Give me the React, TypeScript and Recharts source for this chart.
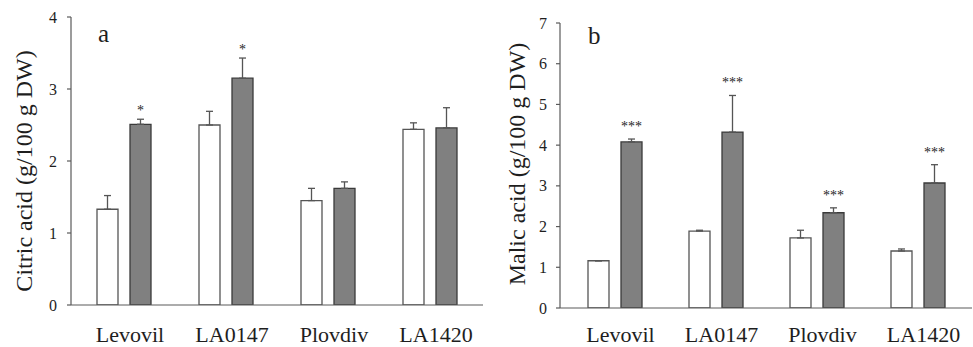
import React from 'react';
import { BarChart, Bar, XAxis, YAxis, ErrorBar, LabelList } from 'recharts';

const categories = ['Levovil', 'LA0147', 'Plovdiv', 'LA1420'];

const citricControl = [1.33, 2.5, 1.45, 2.44];
const citricControlSE = [0.19, 0.19, 0.17, 0.09];
const citricTreated = [2.51, 3.15, 1.62, 2.46];
const citricTreatedSE = [0.07, 0.28, 0.09, 0.28];
const citricSig = ['*', '*', '', ''];
const citricTicks = [0, 1, 2, 3, 4];

const malicControl = [1.16, 1.89, 1.72, 1.4];
const malicControlSE = [0, 0.02, 0.19, 0.05];
const malicTreated = [4.08, 4.32, 2.34, 3.07];
const malicTreatedSE = [0.07, 0.9, 0.12, 0.45];
const malicSig = ['***', '***', '***', '***'];
const malicTicks = [0, 1, 2, 3, 4, 5, 6, 7];

const FONT = '"Liberation Serif", "Times New Roman", Times, serif';
const TEXT = '#1e1e1e';
const AXIS = '#5a5a5a';

function build(ctrl: number[], ctrlSE: number[], trt: number[], trtSE: number[], sig: string[]) {
  return categories.map((c, i) => ({
    name: c,
    control: ctrl[i],
    controlErr: [0, ctrlSE[i]],
    treated: trt[i],
    treatedErr: [0, trtSE[i]],
    sigInfo: `${sig[i]}|${trt[i]}|${trtSE[i]}`,
  }));
}

const citricData = build(citricControl, citricControlSE, citricTreated, citricTreatedSE, citricSig);
const malicData = build(malicControl, malicControlSE, malicTreated, malicTreatedSE, malicSig);

function makeSig(offset: number) {
  return (props: any) => {
    const { x, y, width, height, value } = props;
    if (typeof value !== 'string') return null;
    const [s, v, se] = value.split('|');
    if (!s) return null;
    const val = parseFloat(v);
    const err = parseFloat(se);
    const pxPerUnit = Number(height) / val;
    const errTop = Number(y) - err * pxPerUnit;
    return (
      <text
        x={Number(x) + Number(width) / 2}
        y={errTop - offset}
        textAnchor="middle"
        style={{ fontFamily: FONT, fontSize: 14, fill: TEXT }}
      >
        {s}
      </text>
    );
  };
}

const XTick = (props: any) => {
  const { x, y, payload } = props;
  return (
    <text
      x={Number(x) + 6}
      y={Number(y)}
      dy="0.71em"
      textAnchor="middle"
      style={{ fontFamily: FONT, fontSize: 22, fill: TEXT }}
    >
      {payload.value}
    </text>
  );
};

const YTick = (props: any) => {
  const { x, y, payload } = props;
  return (
    <text
      x={Number(x)}
      y={Number(y)}
      dy="0.35em"
      textAnchor="end"
      style={{ fontFamily: FONT, fontSize: 16, fill: TEXT }}
    >
      {payload.value}
    </text>
  );
};

type PanelProps = {
  data: any[];
  width: number;
  margin: { top: number; right: number; bottom: number; left: number };
  yWidth: number;
  yMax: number;
  ticks: number[];
  yTickMargin: number;
  xTickMargin: number;
  xPad: number;
  sigOffset: number;
  yLabel: string;
  yLabelX: number;
  yLabelY: number;
  letter: string;
  letterX: number;
  letterY: number;
};

function Panel(p: PanelProps) {
  return (
    <BarChart
      width={p.width}
      height={347}
      data={p.data}
      margin={p.margin}
      barSize={21}
      barGap={12}
    >
      <XAxis
        dataKey="name"
        type="category"
        height={30}
        axisLine={{ stroke: AXIS, strokeWidth: 1.2 }}
        tickLine={false}
        tickSize={6}
        tickMargin={p.xTickMargin}
        padding={{ left: p.xPad, right: p.xPad }}
        tick={<XTick />}
        interval={0}
      />
      <YAxis
        type="number"
        domain={[0, p.yMax]}
        ticks={p.ticks}
        width={p.yWidth}
        axisLine={{ stroke: AXIS, strokeWidth: 1.2 }}
        tickLine={{ stroke: AXIS, strokeWidth: 1.2 }}
        tickSize={4}
        tickMargin={p.yTickMargin}
        tick={<YTick />}
        allowDataOverflow
      />
      <Bar dataKey="control" fill="#ffffff" stroke="#555555" strokeWidth={1.3} isAnimationActive={false}>
        <ErrorBar dataKey="controlErr" width={3.5} stroke="#555555" strokeWidth={1.3} direction="y" />
      </Bar>
      <Bar dataKey="treated" fill="#808080" stroke="#3a3a3a" strokeWidth={1.3} isAnimationActive={false}>
        <ErrorBar dataKey="treatedErr" width={3.5} stroke="#555555" strokeWidth={1.3} direction="y" />
        <LabelList dataKey="sigInfo" content={makeSig(p.sigOffset)} />
      </Bar>
      <text
        x={p.yLabelX}
        y={p.yLabelY}
        transform={`rotate(-90 ${p.yLabelX} ${p.yLabelY})`}
        textAnchor="middle"
        dominantBaseline="central"
        style={{ fontFamily: FONT, fontSize: 24, fill: TEXT }}
      >
        {p.yLabel}
      </text>
      <text x={p.letterX} y={p.letterY} style={{ fontFamily: FONT, fontSize: 25, fill: TEXT }}>
        {p.letter}
      </text>
    </BarChart>
  );
}

export default function App() {
  return (
    <div style={{ position: 'absolute', left: 0, top: 0, width: 973, height: 347, background: '#fff' }}>
      <div style={{ position: 'absolute', left: 0, top: 0 }}>
        <Panel
          data={citricData}
          width={490}
          margin={{ top: 17, right: 7, bottom: 12, left: 0 }}
          yWidth={71}
          yMax={4}
          ticks={citricTicks}
          yTickMargin={10}
          xTickMargin={15}
          xPad={2}
          sigOffset={4}
          yLabel="Citric acid (g/100 g DW)"
          yLabelX={24}
          yLabelY={171}
          letter="a"
          letterX={98}
          letterY={42}
        />
      </div>
      <div style={{ position: 'absolute', left: 490, top: 0 }}>
        <Panel
          data={malicData}
          width={483}
          margin={{ top: 23, right: 1, bottom: 9, left: 0 }}
          yWidth={70}
          yMax={7}
          ticks={malicTicks}
          yTickMargin={9}
          xTickMargin={12}
          xPad={4}
          sigOffset={8}
          yLabel="Malic acid (g/100 g DW)"
          yLabelX={27}
          yLabelY={164}
          letter="b"
          letterX={98}
          letterY={44}
        />
      </div>
    </div>
  );
}
